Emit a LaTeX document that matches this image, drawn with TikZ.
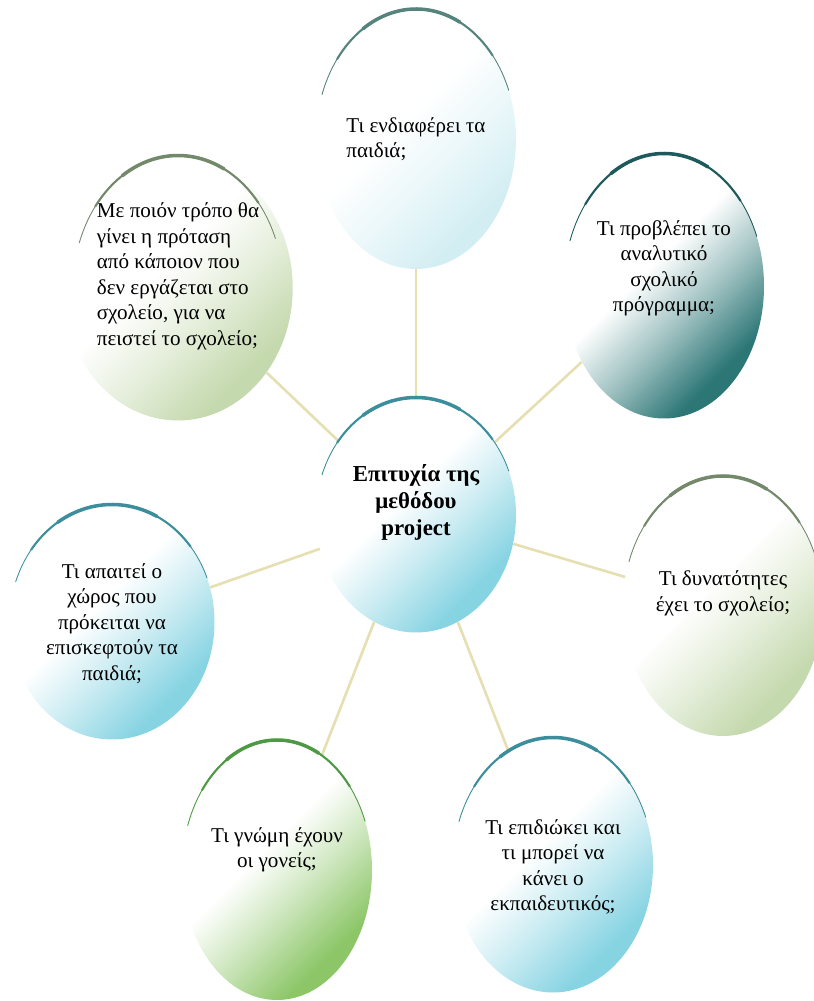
\documentclass[tikz,border=0pt]{standalone}
\usepackage{fontspec}
\setmainfont{Liberation Serif}
\usetikzlibrary{shapes.geometric}

\definecolor{linkcol}{HTML}{E6DFB2}
\definecolor{aqua}{HTML}{86D3E2}
\definecolor{aquarim}{HTML}{3C8E9C}
\definecolor{paleaqua}{HTML}{D3EEF3}
\definecolor{greyrim}{HTML}{56837E}
\definecolor{deepteal}{HTML}{2C7676}
\definecolor{deeprim}{HTML}{1E5A5C}
\definecolor{sage}{HTML}{C5D9AE}
\definecolor{sagerim}{HTML}{74886C}
\definecolor{leaf}{HTML}{8CC667}
\definecolor{leafrim}{HTML}{4E9A44}

% white towards the upper left, tinted towards the lower right
\newcommand\bubbleshade[2]{%
  \pgfdeclareverticalshading{#1}{100bp}{color(0bp)=(#2); color(28bp)=(#2);
    color(42bp)=(#2!45!white); color(55bp)=(white); color(100bp)=(white)}}
\bubbleshade{aquashade}{aqua}
\bubbleshade{paleshade}{paleaqua}
\bubbleshade{tealshade}{deepteal}
\bubbleshade{sageshade}{sage}
\bubbleshade{leafshade}{leaf}

\begin{document}
\begin{tikzpicture}[
    bubble/.style = {ellipse, shade, shading angle=45, minimum width=4cm, minimum height=5.2cm,
      inner sep=0pt, align=center, font=\fontsize{12}{14.5}\selectfont},
    link/.style = {draw=linkcol, line width=1.5pt},
    rim/.style = {line cap=round}]
  \clip (0,0) rectangle (16.28,20.02);

  \node[bubble, shading=aquashade, minimum height=4.7cm, text depth=0.6cm,
    font=\fontsize{13}{15.5}\selectfont\bfseries] (hub) at (8.32,9.72)
    {Επιτυχία της\\μεθόδου\\project};
  \node[bubble, shading=paleshade, align=left] (top) at (8.32,17.24)
    {Τι ενδιαφέρει τα\\παιδιά;};
  \node[bubble, shading=tealshade, minimum height=5.3cm, text depth=0.8cm] (tr) at (13.28,14.30)
    {Τι προβλέπει το\\αναλυτικό\\σχολικό\\πρόγραμμα;};
  \node[bubble, shading=sageshade, align=left, minimum height=5.3cm, text depth=0.55cm] (tl) at (3.56,14.26)
    {Με ποιόν τρόπο θα\\γίνει η πρόταση\\από κάποιον που\\δεν εργάζεται στο\\σχολείο, για να\\πειστεί το σχολείο;};
  \node[bubble, shading=aquashade, minimum width=4.1cm, minimum height=4.7cm, text depth=0cm] (left) at (2.24,7.58)
    {Τι απαιτεί ο\\χώρος που\\πρόκειται να\\επισκεφτούν τα\\παιδιά;};
  \node[bubble, shading=sageshade, text depth=0.6cm] (right) at (14.46,7.90)
    {Τι δυνατότητες\\έχει το σχολείο;};
  \node[bubble, shading=leafshade, minimum width=3.8cm, text depth=0.9cm] (bl) at (5.54,2.62)
    {Τι γνώμη έχουν\\οι γονείς;};
  \node[bubble, shading=aquashade, minimum height=5.1cm, text depth=0cm] (br) at (11.06,2.72)
    {Τι επιδιώκει και\\τι μπορεί να\\κάνει ο\\εκπαιδευτικός;};

  \foreach \n in {top,tr,tl,left,right,bl,br}
    \draw[link] (hub) -- (\n);

  % dark rim along the top of every bubble, thickest in the middle
  \foreach \n/\c/\rx/\ry in {hub/aquarim/2/2.35, top/greyrim/2/2.6, tr/deeprim/2/2.65,
      tl/sagerim/2.1/2.65, left/aquarim/2.05/2.35, right/sagerim/2/2.6,
      bl/leafrim/1.9/2.6, br/aquarim/2/2.55} {
    \draw[rim, \c, line width=0.5pt] ([shift={(160:\rx cm and \ry cm)}]\n.center)
      arc[start angle=160, end angle=22, x radius=\rx cm, y radius=\ry cm];
    \draw[rim, \c, line width=1.2pt] ([shift={(142:\rx cm and \ry cm)}]\n.center)
      arc[start angle=142, end angle=40, x radius=\rx cm, y radius=\ry cm];
    \draw[rim, \c, line width=2pt] ([shift={(122:\rx cm and \ry cm)}]\n.center)
      arc[start angle=122, end angle=64, x radius=\rx cm, y radius=\ry cm];
  }
\end{tikzpicture}
\end{document}
